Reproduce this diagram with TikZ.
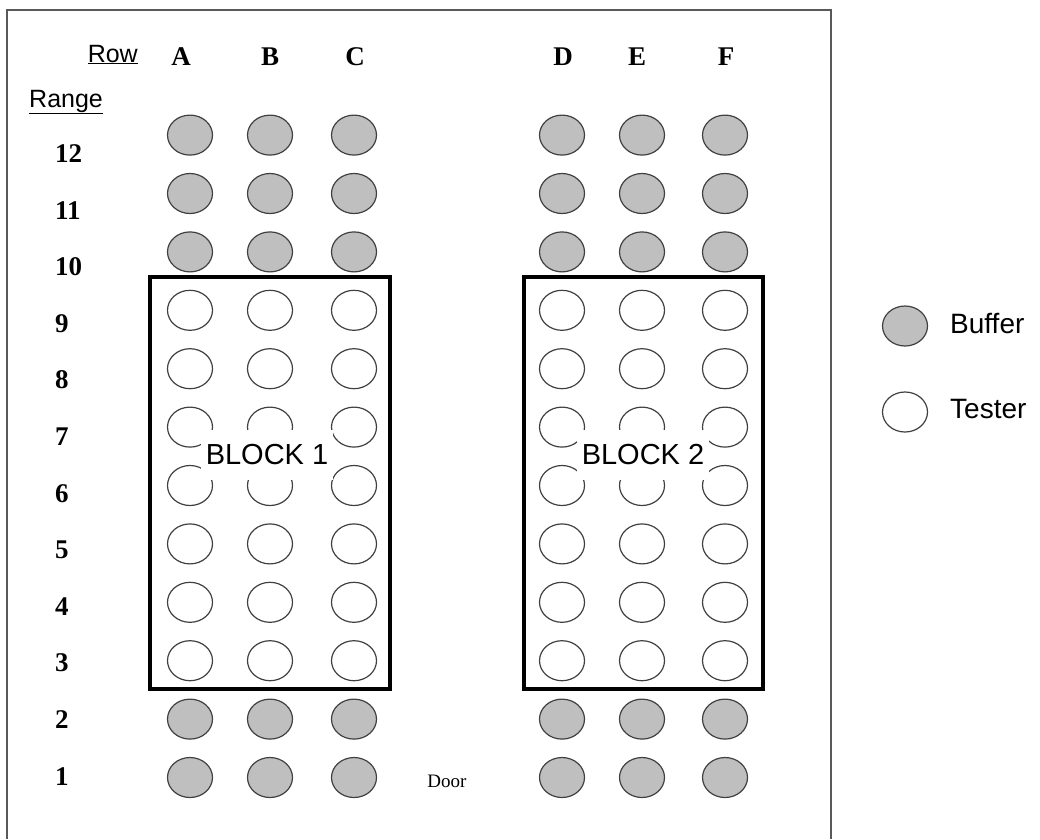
\documentclass[tikz,border=0pt]{standalone}
\usepackage{fontspec}
\setmainfont{Liberation Serif}
\setsansfont{Liberation Sans}
\usetikzlibrary{shapes.geometric}

\begin{document}
\begin{tikzpicture}[x=1pt, y=-1pt,
  buf/.style={draw=black!75, fill=black!25, ellipse, line width=1.2pt, inner sep=0pt, minimum width=45pt, minimum height=40pt},
  tst/.style={buf, fill=white},
  hd/.style={font=\fontsize{27}{30}\selectfont\bfseries, inner sep=0pt},
  sf/.style={font=\fontsize{25}{28}\selectfont\sffamily, inner sep=0pt},
  blk/.style={draw=black, line width=4.5pt},
  blktxt/.style={fill=white, font=\fontsize{29}{32}\selectfont\sffamily, inner xsep=5pt, inner ysep=0pt, minimum height=50pt}]
\useasboundingbox (0,0) rectangle (1040,839);
% frame, open at the bottom
\draw[black!65, line width=2pt] (7,839) -- (7,9.5) -- (831,9.5) -- (831,839);

% headings
\node[sf, anchor=base east] (row) at (138,62) {\underline{Row}};
\node[sf, anchor=base west] (range) at (29,107) {\underline{Range}};
\foreach \c/\x in {A/181,B/270,C/355,D/563,E/637,F/726}
  \node[hd, anchor=base] (h\c) at (\x,65) {\c};
\foreach \r in {1,...,12}
  \node[hd, anchor=base west] (r\r) at (55,{785-(\r-1)*56.6}) {\r};

% buffers and testers
\foreach \c/\x in {A/190,B/270,C/354,D/562,E/642,F/725} {
  \foreach \r in {1,2,10,11,12}
    \node[buf] (\c\r) at (\x,{777.5-(\r-1)*58.4}) {};
  \foreach \r in {3,...,9}
    \node[tst] (\c\r) at (\x,{777.5-(\r-1)*58.4}) {};
}

% blocks
\draw[blk] (150,277) rectangle (390,689);
\draw[blk] (524,277) rectangle (763,689);
\node[blktxt] (b1) at (267,455) {BLOCK 1};
\node[blktxt] (b2) at (643,455) {BLOCK 2};

\node[font=\fontsize{19}{21}\selectfont, anchor=base] (door) at (447,787) {Door};

% legend
\node[buf] (kb) at (905,326) {};
\node[sf, font=\fontsize{28}{30}\selectfont\sffamily, anchor=base west] (kbt) at (950,333) {Buffer};
\node[tst] (kt) at (905,412) {};
\node[sf, font=\fontsize{28}{30}\selectfont\sffamily, anchor=base west] (ktt) at (950,418) {Tester};
\end{tikzpicture}
\end{document}
